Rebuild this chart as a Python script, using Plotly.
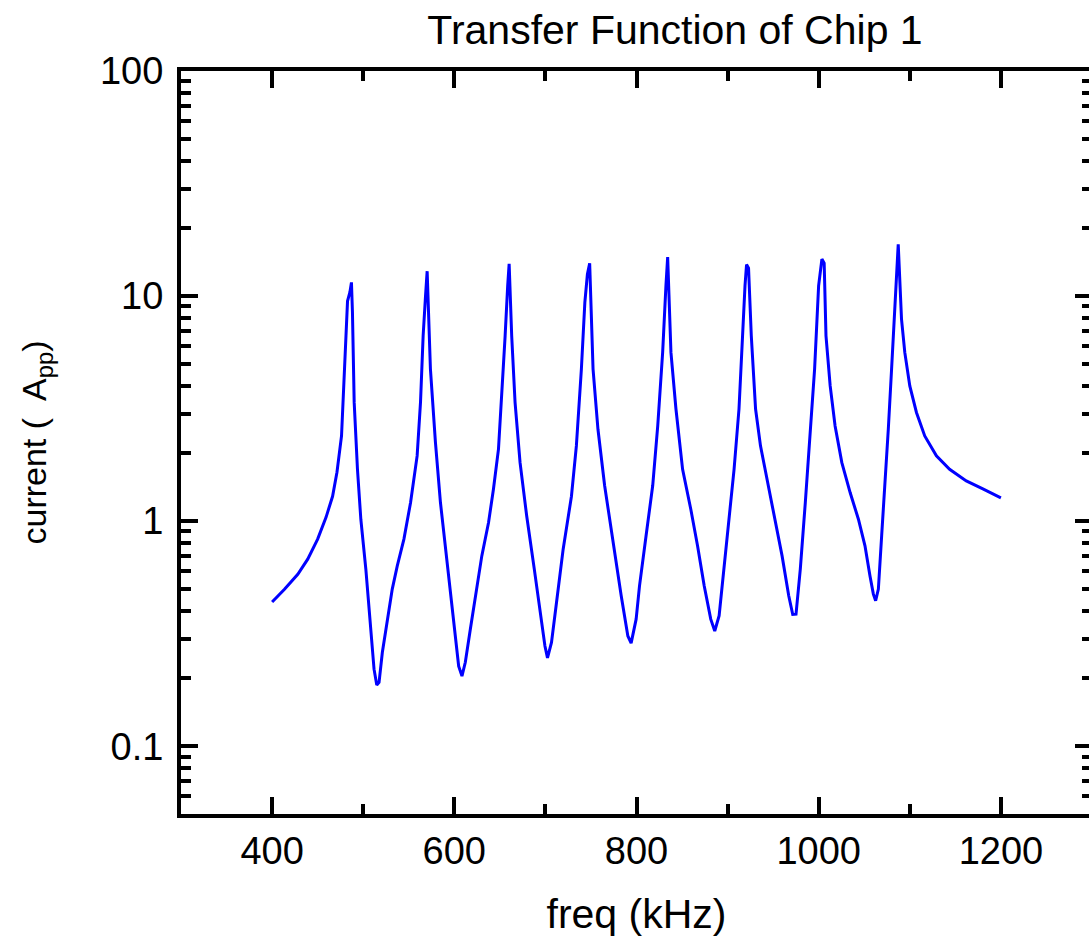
import plotly.graph_objects as go

# ---- data ----
freq_khz = [
    400.0, 413.6, 428.2, 439.1, 450.0, 459.2, 466.4, 471.2, 476.2, 479.2,
    481.3, 482.8, 485.4, 487.1, 488.2, 490.1, 493.7, 497.4, 502.9, 508.3,
    511.9, 514.9, 517.4, 521.0, 526.5, 531.9, 537.4, 544.7, 552.0, 559.2,
    562.9, 565.8, 568.4, 570.2, 573.8, 579.3, 584.8, 592.0, 599.3, 604.8,
    608.4, 612.1, 617.6, 623.0, 630.2, 637.6, 643.0, 648.5, 652.2, 655.8,
    658.6, 660.2, 663.0, 666.7, 672.2, 679.4, 687.8, 694.0, 699.5, 702.3,
    706.7, 712.2, 719.5, 728.6, 734.0, 739.5, 743.3, 746.1, 748.6, 752.3,
    757.7, 765.0, 774.1, 783.2, 790.5, 794.1, 799.6, 803.3, 810.5, 817.8,
    823.3, 828.7, 832.3, 834.2, 837.8, 843.3, 850.6, 859.6, 867.0, 874.3,
    881.5, 885.9, 890.7, 896.1, 901.6, 907.1, 912.5, 916.1, 919.1, 920.8,
    923.0, 926.0, 930.7, 936.1, 943.4, 952.5, 959.8, 967.1, 971.5, 975.1,
    979.8, 985.3, 990.7, 995.5, 999.9, 1003.5, 1006.0, 1008.0, 1012.6, 1018.0,
    1025.4, 1034.5, 1043.6, 1050.8, 1056.3, 1060.0, 1062.5, 1065.5, 1069.1, 1072.7,
    1076.4, 1080.0, 1083.6, 1087.3, 1090.9, 1094.5, 1100.0, 1107.3, 1116.4, 1129.2,
    1143.7, 1162.0, 1180.2, 1200.0,
]
current_app = [
    0.437, 0.498, 0.581, 0.678, 0.832, 1.04, 1.29, 1.65, 2.39, 4.28,
    6.66, 9.5, 10.4, 11.5, 8.47, 3.37, 1.70, 1.02, 0.612, 0.331,
    0.22, 0.187, 0.192, 0.261, 0.367, 0.499, 0.633, 0.832, 1.21, 1.95,
    3.37, 6.66, 10.0, 12.9, 4.74, 2.24, 1.21, 0.655, 0.343, 0.227,
    0.205, 0.236, 0.331, 0.466, 0.701, 0.987, 1.39, 2.09, 3.61, 6.66,
    11.1, 13.9, 6.66, 3.37, 1.82, 1.06, 0.612, 0.393, 0.279, 0.247,
    0.289, 0.435, 0.751, 1.29, 2.16, 4.74, 9.37, 12.5, 14.0, 4.74,
    2.56, 1.44, 0.804, 0.466, 0.309, 0.287, 0.367, 0.516, 0.861, 1.44,
    2.65, 5.62, 11.1, 14.9, 5.62, 3.15, 1.70, 1.13, 0.777, 0.516,
    0.367, 0.325, 0.38, 0.612, 1.02, 1.70, 3.15, 6.66, 11.1, 13.8,
    13.3, 6.66, 3.15, 2.16, 1.54, 0.987, 0.701, 0.466, 0.385, 0.386,
    0.612, 1.21, 2.39, 4.74, 11.1, 14.6, 14.0, 6.66, 3.99, 2.65,
    1.82, 1.34, 1.02, 0.777, 0.571, 0.474, 0.443, 0.499, 0.861, 1.44,
    2.56, 4.74, 9.37, 17.0, 7.9, 5.62, 3.99, 3.04, 2.39, 1.95,
    1.70, 1.51, 1.39, 1.27,
]

x_tick_vals = [400, 600, 800, 1000, 1200]
x_tick_text = ["400", "600", "800", "1000", "1200"]
x_minor_vals = [500, 700, 900, 1100]
y_tick_vals = [0.1, 1, 10, 100]
y_tick_text = ["0.1", "1", "10", "100"]
y_minor_vals = [0.06, 0.07, 0.08, 0.09,
                0.2, 0.3, 0.4, 0.5, 0.6, 0.7, 0.8, 0.9,
                2, 3, 4, 5, 6, 7, 8, 9,
                20, 30, 40, 50, 60, 70, 80, 90]

title_text = "Transfer Function of Chip 1"
x_title = "freq (kHz)"
y_title = "current (\u00a0 A<sub>pp</sub>)"

FONT = "Liberation Sans, Arial, Helvetica, sans-serif"

fig = go.Figure()
fig.add_trace(go.Scatter(
    x=freq_khz, y=current_app, mode="lines",
    line=dict(color="#0000ff", width=3),
    showlegend=False,
))

W, H = 1100, 942
fig.update_layout(
    width=W, height=H,
    margin=dict(l=181, r=4, t=71, b=128, pad=0),
    paper_bgcolor="white", plot_bgcolor="white",
    font=dict(family=FONT, size=38, color="black"),
    title=dict(text=title_text, x=675 / W, xref="container", xanchor="center",
               y=1 - 30 / H, yref="container", yanchor="middle",
               font=dict(family=FONT, size=41, color="black")),
)

fig.update_xaxes(
    range=[300, 1300], showgrid=False, zeroline=False,
    showline=True, linecolor="black", linewidth=4, mirror="ticks",
    ticks="inside", ticklen=17, tickwidth=4, tickcolor="black",
    tickmode="array", tickvals=x_tick_vals, ticktext=x_tick_text,
    ticklabelstandoff=0,
    minor=dict(tickmode="array", tickvals=x_minor_vals, ticks="inside",
               ticklen=10, tickwidth=3.5, tickcolor="black", showgrid=False),
    title=dict(text=x_title, standoff=30, font=dict(family=FONT, size=41)),
)
fig.update_yaxes(
    type="log", range=[-1.30103, 2], showgrid=False, zeroline=False,
    showline=True, linecolor="black", linewidth=4, mirror="ticks",
    ticks="inside", ticklen=17, tickwidth=4, tickcolor="black",
    tickmode="array", tickvals=y_tick_vals, ticktext=y_tick_text,
    ticklabelstandoff=6,
    minor=dict(tickmode="array", tickvals=y_minor_vals, ticks="inside",
               ticklen=10, tickwidth=3.5, tickcolor="black", showgrid=False),
    title=dict(text=y_title, standoff=44, font=dict(family=FONT, size=34)),
)

fig.write_html(
    "out.html",
    config={"displayModeBar": False},
    post_script="document.body.style.margin='0';document.body.style.overflow='hidden';",
)
